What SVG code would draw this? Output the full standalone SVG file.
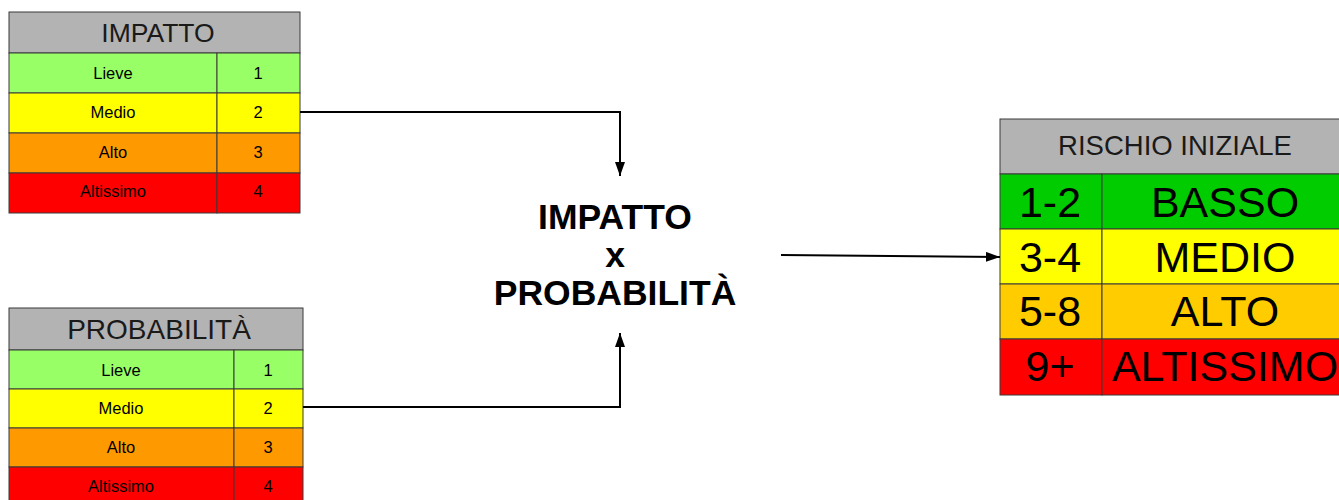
<svg xmlns="http://www.w3.org/2000/svg" width="1339" height="500" viewBox="0 0 1339 500">
<defs>
<marker id="arr" viewBox="0 0 14 10" refX="14" refY="5" markerWidth="14" markerHeight="10" markerUnits="userSpaceOnUse" orient="auto">
<path d="M0,0 L14,5 L0,10 Z" fill="#000"/>
</marker>
</defs>
<style>
rect{stroke:#3a3a3a;stroke-width:1}
.hd{fill:#b3b3b3}
.g{fill:#99ff66}
.y{fill:#ffff00}
.o{fill:#ff9900}
.r{fill:#ff0000}
.dg{fill:#00cc00}
.ao{fill:#ffcc00}
text{font-family:"Liberation Sans",Arial,sans-serif;fill:#000;text-anchor:middle}
.h{font-size:26.5px;fill:#1a1a1a}
.s{font-size:16.5px}
.b{font-size:43px}
.c{font-size:35.5px;font-weight:bold}
.ln{fill:none;stroke:#000;stroke-width:2}
</style>
<rect width="1339" height="500" fill="#fff" style="stroke:none"/>
<g id="impatto">
<rect class="hd" x="9" y="12" width="291" height="41"/>
<text class="h" x="158" y="42">IMPATTO</text>
<rect class="g" x="9" y="53" width="208" height="40"/><rect class="g" x="217" y="53" width="83" height="40"/>
<rect class="y" x="9" y="93" width="208" height="40"/><rect class="y" x="217" y="93" width="83" height="40"/>
<rect class="o" x="9" y="133" width="208" height="40"/><rect class="o" x="217" y="133" width="83" height="40"/>
<rect class="r" x="9" y="173" width="208" height="40"/><rect class="r" x="217" y="173" width="83" height="40"/>
<text class="s" x="113" y="79">Lieve</text><text class="s" x="258" y="79">1</text>
<text class="s" x="113" y="118">Medio</text><text class="s" x="258" y="118">2</text>
<text class="s" x="113" y="158">Alto</text><text class="s" x="258" y="158">3</text>
<text class="s" x="113" y="197">Altissimo</text><text class="s" x="258" y="197">4</text>
</g>
<g id="probabilita">
<rect class="hd" x="9" y="308" width="294" height="42"/>
<text class="h" x="159" y="339" style="font-size:28px">PROBABILITÀ</text>
<rect class="g" x="9" y="350" width="225" height="39"/><rect class="g" x="234" y="350" width="69" height="39"/>
<rect class="y" x="9" y="389" width="225" height="39"/><rect class="y" x="234" y="389" width="69" height="39"/>
<rect class="o" x="9" y="428" width="225" height="39"/><rect class="o" x="234" y="428" width="69" height="39"/>
<rect class="r" x="9" y="467" width="225" height="39"/><rect class="r" x="234" y="467" width="69" height="39"/>
<text class="s" x="121" y="376">Lieve</text><text class="s" x="268" y="376">1</text>
<text class="s" x="121" y="414">Medio</text><text class="s" x="268" y="414">2</text>
<text class="s" x="121" y="453">Alto</text><text class="s" x="268" y="453">3</text>
<text class="s" x="121" y="492">Altissimo</text><text class="s" x="268" y="492">4</text>
</g>
<g id="formula">
<text class="c" x="615" y="229">IMPATTO</text>
<text class="c" x="615" y="267">x</text>
<text class="c" x="615" y="305">PROBABILITÀ</text>
</g>
<g id="rischio">
<rect class="hd" x="1000" y="119" width="349" height="55"/>
<text class="h" x="1175" y="155" style="font-size:27.5px">RISCHIO INIZIALE</text>
<rect class="dg" x="1000" y="174" width="102" height="55"/><rect class="dg" x="1102" y="174" width="247" height="55"/>
<rect class="y" x="1000" y="229" width="102" height="55"/><rect class="y" x="1102" y="229" width="247" height="55"/>
<rect class="ao" x="1000" y="284" width="102" height="55"/><rect class="ao" x="1102" y="284" width="247" height="55"/>
<rect class="r" x="1000" y="339" width="102" height="56"/><rect class="r" x="1102" y="339" width="247" height="56"/>
<text class="b" x="1050" y="217">1-2</text><text class="b" x="1225" y="217">BASSO</text>
<text class="b" x="1050" y="272">3-4</text><text class="b" x="1225" y="272">MEDIO</text>
<text class="b" x="1050" y="326">5-8</text><text class="b" x="1225" y="326">ALTO</text>
<text class="b" x="1050" y="381">9+</text><text class="b" x="1225" y="381">ALTISSIMO</text>
</g>
<g id="connectors">
<polyline class="ln" points="300,112 620,112 620,176" marker-end="url(#arr)"/>
<polyline class="ln" points="303,407 620,407 620,333" marker-end="url(#arr)"/>
<line class="ln" x1="781" y1="255" x2="1000" y2="257" marker-end="url(#arr)"/>
</g>
</svg>
